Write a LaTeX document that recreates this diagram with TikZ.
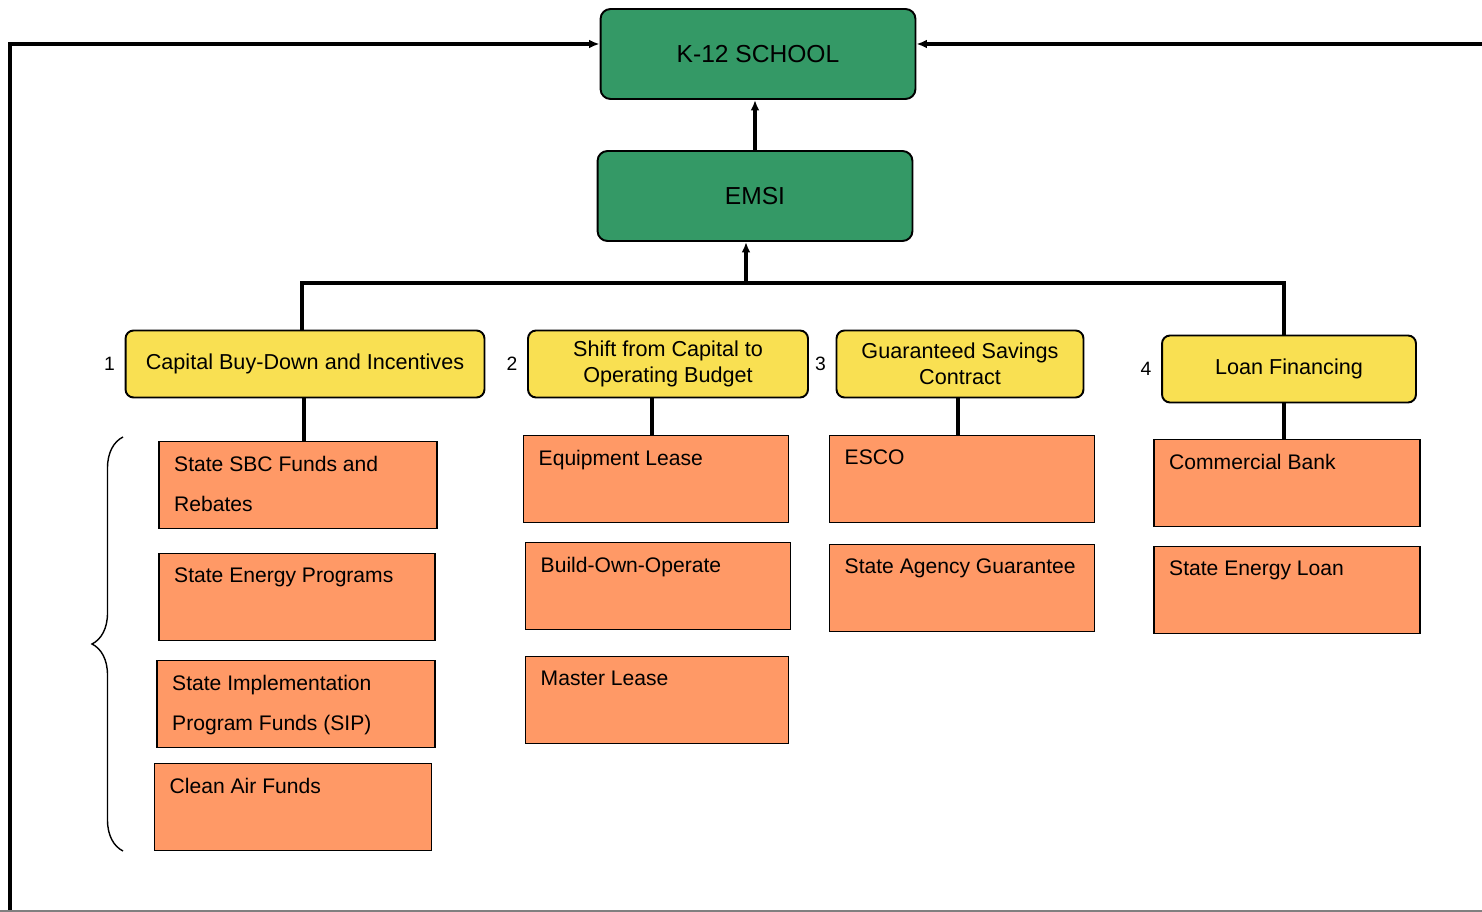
\documentclass[tikz,border=0pt]{standalone}
\usepackage{fontspec}
\setmainfont{Liberation Sans}
\usetikzlibrary{arrows.meta,decorations.pathreplacing}
\definecolor{topgreen}{RGB}{52,153,102}
\definecolor{optyellow}{RGB}{249,224,82}
\definecolor{leaforange}{RGB}{255,153,102}
\begin{document}
\begin{tikzpicture}[x=0.02cm,y=-0.02cm,
		topbox/.style={draw, line width=1.1pt, fill=topgreen, rounded corners=0.2cm, minimum width=6.3cm, minimum height=1.8cm, font=\fontsize{14}{16}\selectfont},
		optbox/.style={draw, line width=1.1pt, fill=optyellow, rounded corners=0.16cm, minimum height=1.34cm, align=center, font=\fontsize{12.3}{14.8}\selectfont},
		leaf/.style={draw, line width=1.1pt, fill=leaforange, minimum height=1.74cm, inner sep=0pt},
		leaftext/.style={anchor=north west, inner sep=0pt, xshift=9pt, yshift=-8.5pt, align=left, font=\fontsize{12}{22.8}\selectfont},
		numtext/.style={font=\fontsize{11}{13}\selectfont, label distance=2pt},
		conn/.style={line width=2.3pt},
		frameline/.style={line width=2.8pt},
		tip/.style={-{Latex[length=6pt,width=5pt]}}]
	\useasboundingbox (0,0) rectangle (1482,912);
	% top
	\node[topbox] (school) at (758,54) {K-12 SCHOOL};
	\node[topbox] (emsi) at (755,196) {EMSI};
	\draw[conn,tip] (emsi.north) -- (emsi.north |- school.south);
	% frame around
	\coordinate (fl) at (10,44);
	\coordinate (fb) at (10,912);
	\coordinate (fr) at (1482,44);
	\draw[frameline,tip] (fb) -- (fl) -- (fl -| school.west);
	\draw[frameline,tip] (fr) -- (fr -| school.east);
	\draw[gray, line width=1pt] (0,911) -- (1482,911);
	% options
	\node[optbox, minimum width=7.18cm, label={[numtext]west:1}] (capital) at (305,364) {Capital Buy-Down and Incentives};
	\node[optbox, minimum width=5.6cm, label={[numtext]west:2}] (shift) at (668,364) {Shift from Capital to\\Operating Budget};
	\node[optbox, minimum width=4.94cm, label={[numtext]west:3}] (savings) at (960,364) {Guaranteed Savings\\Contract};
	\node[optbox, minimum width=5.08cm, label={[numtext]west:4}] (loan) at (1289,369) {Loan Financing};
	\coordinate (bus) at (746,283);
	\coordinate (busl) at (302,283);
	\coordinate (busr) at (1284,283);
	\draw[conn] (busl |- capital.north) -- (busl) -- (busr) -- (busr |- loan.north);
	\draw[conn,tip] (bus) -- (bus |- emsi.south);
	% funding sources
	\node[leaf, minimum width=5.56cm, label={[leaftext]north west:State SBC Funds and\\Rebates}] (sbc) at (298,485) {};
	\node[leaf, minimum width=5.52cm, label={[leaftext]north west:State Energy Programs}] (sep) at (297,597) {};
	\node[leaf, minimum width=5.56cm, label={[leaftext]north west:State Implementation\\Program Funds (SIP)}] (sip) at (296,704) {};
	\node[leaf, minimum width=5.54cm, label={[leaftext]north west:Clean Air Funds}] (air) at (293,807) {};
	\node[leaf, minimum width=5.3cm, label={[leaftext]north west:Equipment Lease}] (equip) at (656,479) {};
	\node[leaf, minimum width=5.3cm, label={[leaftext]north west:Build-Own-Operate}] (boo) at (658,586) {};
	\node[leaf, minimum width=5.26cm, label={[leaftext]north west:Master Lease}] (master) at (657,700) {};
	\node[leaf, minimum width=5.3cm, label={[leaftext]north west:ESCO}] (esco) at (962,479) {};
	\node[leaf, minimum width=5.3cm, label={[leaftext]north west:State Agency Guarantee}] (agency) at (962,588) {};
	\node[leaf, minimum width=5.32cm, label={[leaftext]north west:Commercial Bank}] (bank) at (1287,483) {};
	\node[leaf, minimum width=5.32cm, label={[leaftext]north west:State Energy Loan}] (seloan) at (1287,590) {};
	\coordinate (d1) at (304,0);
	\coordinate (d2) at (652,0);
	\coordinate (d3) at (958,0);
	\coordinate (d4) at (1284,0);
	\draw[conn] (d1 |- capital.south) -- (d1 |- sbc.north);
	\draw[conn] (d2 |- shift.south) -- (d2 |- equip.north);
	\draw[conn] (d3 |- savings.south) -- (d3 |- esco.north);
	\draw[conn] (d4 |- loan.south) -- (d4 |- bank.north);
	% brace
	\draw[line width=0.8pt, decorate, decoration={brace, amplitude=0.62cm}] (123,851) -- (123,437);
\end{tikzpicture}
\end{document}
